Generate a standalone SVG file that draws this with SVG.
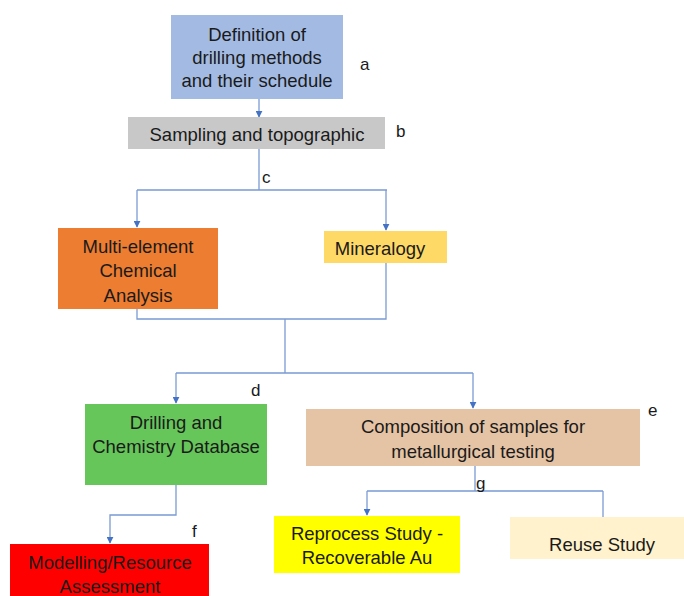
<svg xmlns="http://www.w3.org/2000/svg" width="684" height="596" viewBox="0 0 684 596">
<style>
text{font-family:"Liberation Sans",Arial,sans-serif;font-size:18.5px;fill:#1a1a1a;text-anchor:middle;dominant-baseline:central}
.lab{font-size:17px;text-anchor:start}
.c{fill:none;stroke:#7a9bd3;stroke-width:1.3}
</style>
<defs>
<marker id="ah" viewBox="0 0 10 10" refX="9" refY="5" markerWidth="7" markerHeight="7" orient="auto" markerUnits="userSpaceOnUse"><path d="M0,0 L10,5 L0,10 z" fill="#4472c4"/></marker>
</defs>
<rect width="684" height="596" fill="#fff"/>
<g id="connectors">
<path class="c" d="M259,99 V117" marker-end="url(#ah)"/>
<path class="c" d="M259,149 V190 M137,190 H387"/>
<path class="c" d="M137,190 V227" marker-end="url(#ah)"/>
<path class="c" d="M386,190 V230" marker-end="url(#ah)"/>
<path class="c" d="M137,309 V319 H386 V263 M285,319 V373 M176,373 H473"/>
<path class="c" d="M176,373 V403" marker-end="url(#ah)"/>
<path class="c" d="M473,373 V408" marker-end="url(#ah)"/>
<path class="c" d="M176,485 V515 H110 V543" marker-end="url(#ah)"/>
<path class="c" d="M475,466 V491 M367,491 H603"/>
<path class="c" d="M367,491 V515" marker-end="url(#ah)"/>
<path class="c" d="M603,491 V524" marker-end="url(#ah)"/>
</g>
<g id="node-a"><rect x="171" y="15" width="172" height="84" fill="#a3bbe3"/>
<text x="257" y="34">Definition of</text><text x="257" y="57">drilling methods</text><text x="257" y="80">and their schedule</text>
<text class="lab" x="360" y="64">a</text></g>
<g id="node-b"><rect x="128" y="117" width="257" height="32" fill="#c8c8c8"/>
<text x="257" y="134">Sampling and topographic</text>
<text class="lab" x="396" y="131">b</text></g>
<text class="lab" x="262" y="177">c</text>
<g id="node-chem"><rect x="58" y="228" width="160" height="81" fill="#ed7d31"/>
<text x="138" y="246">Multi-element</text><text x="138" y="270">Chemical</text><text x="138" y="295">Analysis</text></g>
<g id="node-min"><rect x="324" y="231" width="123" height="32" fill="#ffd966"/>
<text x="380" y="248">Mineralogy</text></g>
<text class="lab" x="251" y="390">d</text>
<g id="node-db"><rect x="85" y="404" width="182" height="81" fill="#66c65a"/>
<text x="176" y="422">Drilling and</text><text x="176" y="446">Chemistry Database</text></g>
<g id="node-comp"><rect x="306" y="409" width="334" height="57" fill="#e5c3a5"/>
<text x="473" y="426">Composition of samples for</text><text x="473" y="451">metallurgical testing</text>
<text class="lab" x="648" y="410">e</text></g>
<g id="node-model"><rect x="10" y="544" width="199" height="56" fill="#ff0000"/>
<text x="110" y="562">Modelling/Resource</text><text x="110" y="586">Assessment</text>
<text class="lab" x="192" y="531">f</text></g>
<text class="lab" x="476" y="483">g</text>
<g id="node-reproc"><rect x="274" y="516" width="186" height="57" fill="#ffff00"/>
<text x="367" y="533">Reprocess Study -</text><text x="367" y="557">Recoverable Au</text></g>
<g id="node-reuse"><rect x="510" y="517" width="174" height="42" fill="#fff2cc"/>
<text x="602" y="544">Reuse Study</text></g>
</svg>
